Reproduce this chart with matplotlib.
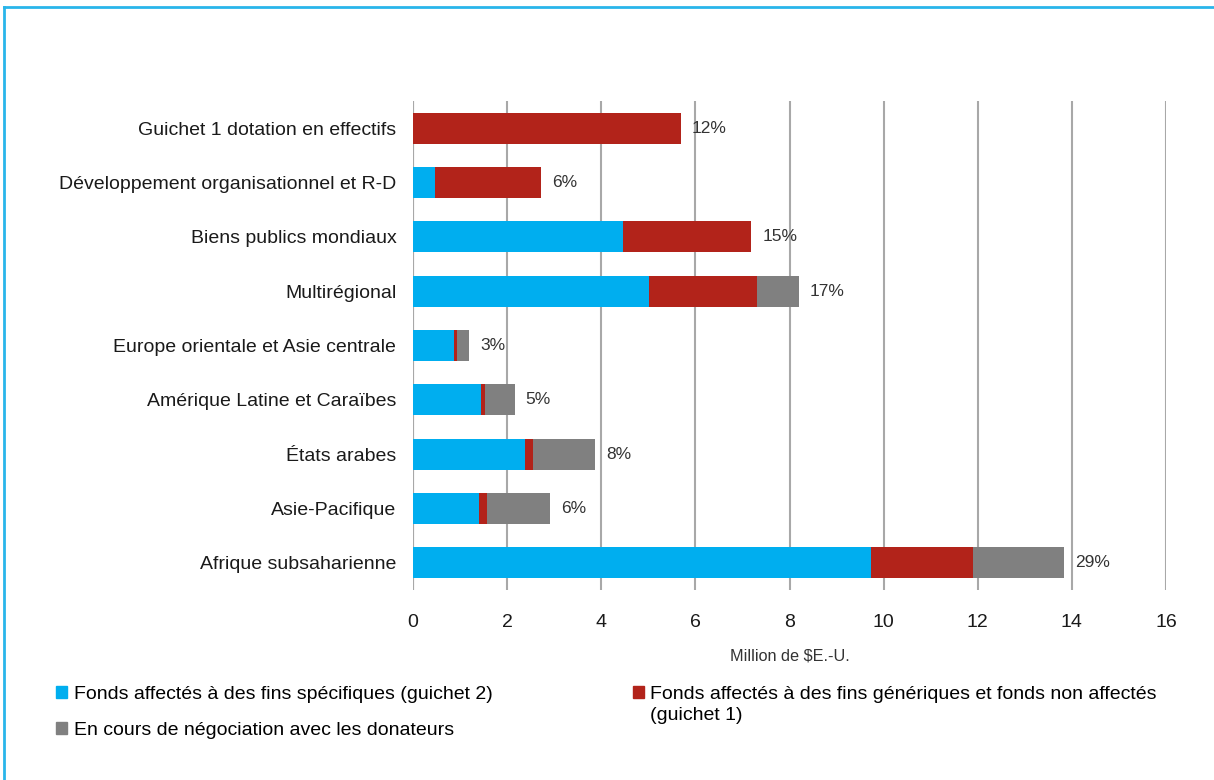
import matplotlib.pyplot as plt
from matplotlib.lines import Line2D
from matplotlib.patches import Patch

# ── Data ──────────────────────────────────────────────────────────────────────
CATEGORIES = [
    "Guichet 1 dotation en effectifs",
    "Développement organisationnel et R-D",
    "Biens publics mondiaux",
    "Multirégional",
    "Europe orientale et Asie centrale",
    "Amérique Latine et Caraïbes",
    "États arabes",
    "Asie-Pacifique",
    "Afrique subsaharienne",
]
SPECIFIC = [0.0, 0.47, 4.46, 5.01, 0.87, 1.44, 2.37, 1.41, 9.74]
GENERIC = [5.69, 2.24, 2.73, 2.30, 0.07, 0.08, 0.19, 0.17, 2.16]
NEGOTIATION = [0.0, 0.0, 0.0, 0.89, 0.25, 0.64, 1.31, 1.34, 1.94]
SHARES = ["12%", "6%", "15%", "17%", "3%", "5%", "8%", "6%", "29%"]

LABEL_SPECIFIC = "Fonds affectés à des fins spécifiques (guichet 2)"
LABEL_GENERIC = ["Fonds affectés à des fins génériques et fonds non affectés",
                 "(guichet 1)"]
LABEL_NEGO = "En cours de négociation avec les donateurs"

# ── Style ─────────────────────────────────────────────────────────────────────
BLUE = "#00AEEF"
RED = "#B2231A"
GREY = "#808080"
GRID = "#A8A8A8"
FRAME = "#29B5EA"
FS = 14

plt.rcParams["font.family"] = ["Liberation Sans", "DejaVu Sans"]

fig = plt.figure(figsize=(12.14, 7.8), dpi=100)
fig.patch.set_facecolor("white")
ax = fig.add_axes([0.3402, 0.2436, 0.6203, 0.6269])

y = list(range(len(CATEGORIES)))
left_grey = [a + b for a, b in zip(SPECIFIC, GENERIC)]
totals = [a + b for a, b in zip(left_grey, NEGOTIATION)]

ax.barh(y, SPECIFIC, height=0.57, color=BLUE, zorder=3)
ax.barh(y, GENERIC, left=SPECIFIC, height=0.57, color=RED, zorder=3)
ax.barh(y, NEGOTIATION, left=left_grey, height=0.57, color=GREY, zorder=3)

# share labels just right of each bar
for yi, total, share in zip(y, totals, SHARES):
    ax.annotate(
        share,
        (total, yi),
        xytext=(8, 0),
        textcoords="offset points",
        ha="left",
        va="center",
        fontsize=12.5,
        color="#333333",
    )

ax.set_ylim(len(CATEGORIES) - 0.5, -0.5)
ax.set_xlim(0, 16)
ax.set_xticks(range(0, 17, 2))
ax.set_yticks(y)
ax.set_yticklabels(CATEGORIES, fontsize=FS, color="#1A1A1A")
ax.tick_params(axis="y", length=0, pad=12)
ax.tick_params(axis="x", length=0, pad=17, labelsize=FS, labelcolor="#1A1A1A")

ax.grid(axis="x", color=GRID, linewidth=1.5, zorder=0)
for spine in ax.spines.values():
    spine.set_visible(False)
ax.axvline(0, color=GRID, linewidth=1.5, zorder=1)

ax.set_xlabel("Million de $E.-U.", fontsize=11.7, color="#333333", labelpad=13)

# ── Legend ────────────────────────────────────────────────────────────────────
legend_style = dict(
    loc="upper left",
    frameon=False,
    fontsize=FS,
    handlelength=0.55,
    handleheight=0.55,
    handletextpad=0.35,
    borderaxespad=0,
)
fig.legend(
    handles=[Patch(color=BLUE), Patch(color=GREY)],
    labels=[LABEL_SPECIFIC, LABEL_NEGO],
    bbox_to_anchor=(0.040, 0.131),
    labelspacing=1.0,
    **legend_style,
)
leg_red = fig.legend(
    handles=[Patch(color=RED)],
    labels=[LABEL_GENERIC[0]],
    bbox_to_anchor=(0.515, 0.131),
    **legend_style,
)

# second line of the red entry, aligned with the first line's text
fig.canvas.draw()
bb = leg_red.get_texts()[0].get_window_extent().transformed(fig.transFigure.inverted())
fig.text(bb.x0, bb.y0 - 0.0275, LABEL_GENERIC[1], fontsize=FS,
         ha="left", va="bottom", color="black")

# ── Blue frame (top and left only, as cropped) ────────────────────────────────
fig.add_artist(Line2D([0.003, 1.0], [0.991, 0.991], transform=fig.transFigure,
                      color=FRAME, linewidth=2))
fig.add_artist(Line2D([0.003, 0.003], [0.0, 0.991], transform=fig.transFigure,
                      color=FRAME, linewidth=2))

fig.savefig("out.png", dpi=100, facecolor="white")
